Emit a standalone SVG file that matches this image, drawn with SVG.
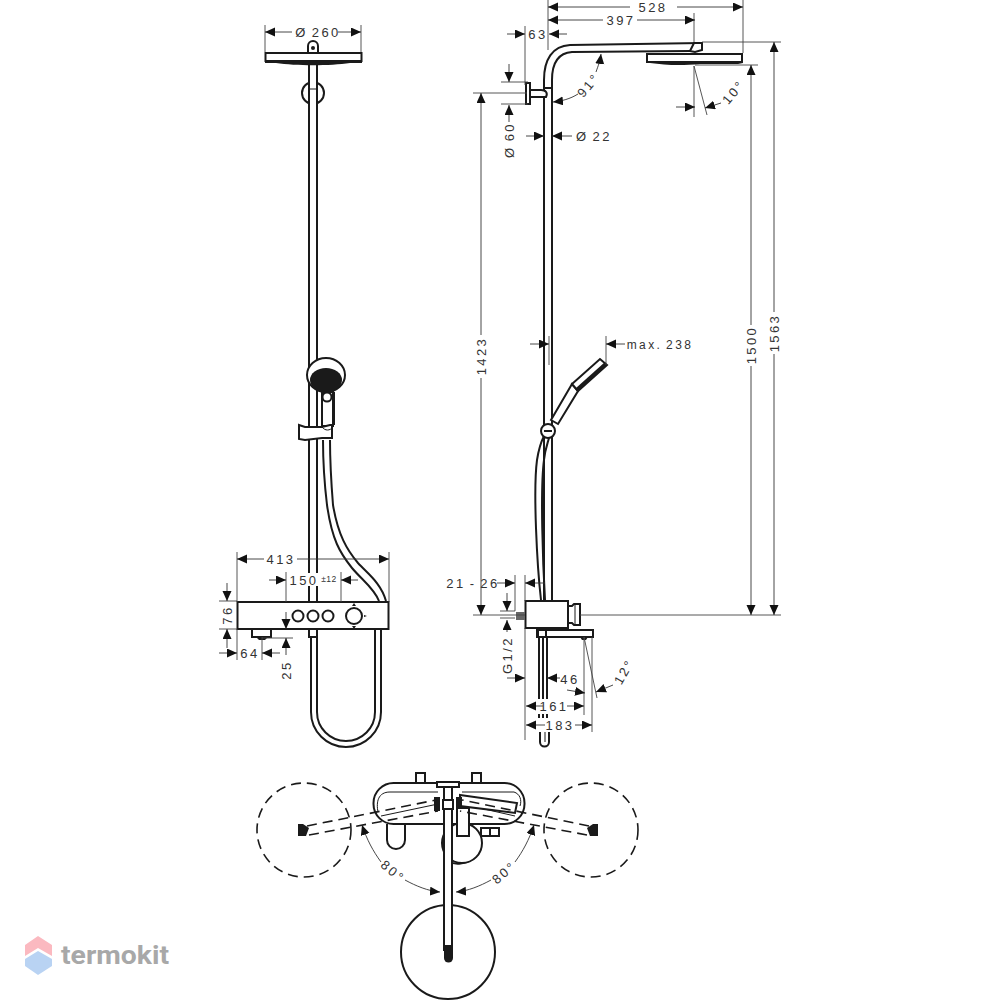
<svg xmlns="http://www.w3.org/2000/svg" width="1000" height="1000" viewBox="0 0 1000 1000">
<style>
.o{fill:none;stroke:#1a1a1a;stroke-width:2}
.w{fill:#fff;stroke:#1a1a1a;stroke-width:2}
.k{fill:#1a1a1a;stroke:none}
.t{fill:none;stroke:#1a1a1a;stroke-width:1}
.e{fill:none;stroke:#444;stroke-width:.9}
.a{fill:none;stroke:#333;stroke-width:.9;marker-end:url(#ar)}
.d{fill:none;stroke:#1a1a1a;stroke-width:1.6;stroke-dasharray:10 6}
.x{font-family:"Liberation Sans",Arial,sans-serif;font-size:13px;letter-spacing:2.4px;word-spacing:-2px;fill:#333;text-anchor:middle}
</style>
<defs>
<marker id="ar" markerUnits="userSpaceOnUse" markerWidth="12" markerHeight="10" refX="10" refY="4.500" orient="auto"><path d="M0 0L10 4.500L0 9Z" fill="#111"/></marker>
</defs>
<rect width="1000" height="1000" fill="#fff"/>

<g id="front-view">
<path class="o" d="M379 601C374 588 362 580 352 568C340 553 332 540 327 505C324 480 323 460 323 440"/>
<path class="o" d="M386 601C381 583 368 574 358 563C347 550 338 535 333 505C331 480 330 460 330 440"/>
<path class="o" d="M309 65V573M317 65V573M309 586V601M317 586V601"/>
<circle class="o" cx="313" cy="93" r="11"/>
<rect x="310" y="65" width="6" height="50" fill="#fff"/>
<path class="t" d="M309 89H317"/>
<path class="o" d="M308 52V46A5 5 0 0 1 318 46V52"/>
<circle class="k" cx="313" cy="48" r="2"/>
<rect class="w" x="265.500" y="53" width="96" height="8"/>
<path class="k" d="M265 60H362V63H350C330 66 296 66 276 63H265Z"/>
<path class="o" d="M323 425V392M334 425V392"/>
<ellipse class="w" cx="326" cy="375" rx="19" ry="17"/>
<ellipse class="k" cx="326" cy="380" rx="16" ry="12"/>
<rect class="w" x="322" y="392" width="11" height="34"/>
<circle class="w" cx="327" cy="397" r="4.500"/>
<path class="w" d="M299 425L305 427H322L330 425H332V438H322L305 440L299 439Z"/>
<path class="t" d="M322 427C325 431 330 431 333 427"/>
<rect class="w" x="237.500" y="602" width="151" height="27"/>
<circle class="o" cx="298" cy="616" r="5.500"/>
<circle class="o" cx="313" cy="616" r="5.500"/>
<circle class="o" cx="328" cy="616" r="5.500"/>
<circle class="o" cx="354" cy="616" r="8"/>
<path class="k" d="M352 606L354 603L356 606ZM352 626L354 629L356 626ZM364 615L367 616L364 617Z"/>
<path class="o" d="M252 629V637H271V629"/>
<path class="k" d="M256 637H268L265 640H259Z"/>
<rect class="o" x="309" y="629" width="8" height="8"/>
<path class="o" d="M311 637V712A35 35 0 0 0 381 712V629"/>
<path class="o" d="M317 637V712A29 29 0 0 0 375 712V629"/>
</g>

<g id="side-view">
<path class="o" d="M544 600V80C544 60 552 46 570 45L702 43M552 600V80C552 64 558 53 572 52L690 51"/>
<path class="w" d="M690 51L694 43H702V50L695 52Z"/>
<rect class="w" x="647" y="54" width="95" height="8"/>
<path class="k" d="M646 61H743V63L738 64H700C680 66 665 65 650 63H646Z"/>
<rect class="w" x="526" y="83" width="4" height="21"/>
<path class="w" d="M530 90H541C546 90 548 93 546 97H530Z"/>
<path class="o" d="M544 88H552"/>
<path class="o" d="M541 600C537 565 533 490 537 460C539 447 542 440 544 436M545 600C543 565 540 490 544 460C545 450 547 445 549 438"/>
<path class="w" d="M551 420L572 384L578 391L558 424Z"/>
<path class="w" d="M572 384L600 359L607 365L578 391Z"/>
<path class="k" d="M576 388L605 362L607 365L578 391Z"/>
<circle class="w" cx="548" cy="431" r="7"/>
<path class="k" d="M544 430H552V432H544Z"/>
<rect class="w" x="525.500" y="601" width="42.500" height="27"/>
<path class="o" d="M568 606H572L574 604H580V625H574L572 623H568"/>
<path class="t" d="M575 605V624"/>
<rect x="516" y="612" width="9" height="8" fill="#666"/>
<path class="o" d="M537 630H593V637H537Z"/>
<path class="o" d="M538 630V637H546V630"/>
<path class="k" d="M580 637H588L586 640H582Z"/>
<path class="o" d="M539 637V699M543 637V699M547 637V699"/>
<path class="o" d="M539 718V714M543 718V714M547 718V714" stroke-width="1.600"/>
<path class="o" d="M540 732V742A4.500 4.500 0 0 0 549 742V732"/>
<path class="t" d="M545 732V742"/>
</g>

<g id="top-view">
<circle class="d" cx="304" cy="830" r="47"/>
<circle class="d" cx="591" cy="830" r="47"/>
<circle class="o" cx="448" cy="952" r="47"/>
<path class="o" d="M416 783V773H425V783M472 783V773H481V783"/>
<path class="o" d="M387 824V840A9 9 0 0 0 405 840V824"/>
<path class="o" d="M444 852C444 870 476 866 481 848"/>
<circle class="w" cx="462" cy="843" r="20"/>
<rect class="o" x="481" y="828" width="9" height="8"/>
<rect class="o" x="490" y="828" width="9" height="8"/>
<rect class="w" x="373.500" y="783" width="151" height="41" rx="20"/>
<path class="t" d="M378 812C376 802 378 792 390 792H438M462 792H514C520 794 522 800 520 806"/>
<path class="t" d="M381 816L438 804M515 816L462 804"/>
<path class="w" d="M460 795L517 803L515 813L460 806Z"/>
<rect class="k" x="434" y="797" width="6" height="14"/>
<rect class="k" x="456" y="797" width="6" height="14"/>
<rect class="w" x="437" y="782" width="22" height="5"/>
<path class="w" d="M444 787V950H452V787Z"/>
<rect class="w" x="443" y="800" width="10" height="9"/>
<rect class="w" x="457" y="808" width="12" height="28"/>
<path class="k" d="M444 945H453V958A4.500 4.500 0 0 1 444 958Z"/>
<path class="k" d="M298 824L303 824L309 828L306 836L298 836Z"/>
<path class="k" d="M598 824L593 824L587 828L590 836L598 836Z"/>
<path class="d" d="M307 826L436 800M309 835L438 811M589 826L462 800M587 835L460 811"/>
<path class="a" d="M381 862C373 851 367 840 362 825"/>
<path class="a" d="M405 880C416 886 428 891 440 892"/>
<path class="a" d="M515 862C523 851 529 840 534 825"/>
<path class="a" d="M491 880C480 886 468 891 456 892"/>
<text class="x" transform="translate(390 875) rotate(40)">80°</text>
<text class="x" transform="translate(507 876) rotate(-40)">80°</text>
</g>

<g id="dimensions">
<path class="e" d="M265 25V52M361 25V52M548 0V50M743 0V53M694 13V42M525 26V85M702 42H781M695 65H758M694 66V117M694 66L707 115M501 82H528M501 104H528M473 93H527M473 615H525M580 615H781M606 336V365M549 336V365M515 575V611M525 575V601M500 611H515M500 618H515M525 628V740M584 637V715M592 637V732M584 637L597 698M237 552V602M389 552V602M286 572V602M341 572V602M219 601H237M219 629H237M237 629V660M262 637V660M262 638H293"/>
<path class="a" d="M292 32H265"/><path class="a" d="M338 32H361"/>
<text class="x" x="318" y="37">Ø 260</text>
<path class="a" d="M630 7H548"/><path class="a" d="M677 7H743"/>
<text class="x" x="653" y="12">528</text>
<path class="a" d="M603 20H548"/><path class="a" d="M637 20H695"/>
<text class="x" x="621" y="25">397</text>
<path class="a" d="M507 34H525"/><path class="a" d="M567 34H549"/>
<text class="x" x="538" y="39">63</text>
<path class="a" d="M596 72C598 66 600 62 601 54"/><path class="a" d="M578 94C570 99 562 101 553 102"/>
<text class="x" transform="translate(592 88) rotate(-50)">91°</text>
<path class="a" d="M676 107H695"/><path class="a" d="M721 103L705 108"/>
<text class="x" transform="translate(737 95) rotate(-50)">10°</text>
<path class="a" d="M509 64V82"/><path class="a" d="M509 122V105"/>
<text class="x" transform="translate(514 140) rotate(-90)">Ø 60</text>
<path class="a" d="M526 136H544"/><path class="a" d="M572 136H552"/>
<text class="x" x="594" y="141">Ø 22</text>
<path class="a" d="M481 335V93"/><path class="a" d="M481 378V615"/>
<text class="x" transform="translate(486 356) rotate(-90)">1423</text>
<path class="a" d="M751 325V65"/><path class="a" d="M751 366V615"/>
<text class="x" transform="translate(756 345) rotate(-90)">1500</text>
<path class="a" d="M774 312V42"/><path class="a" d="M774 354V615"/>
<text class="x" transform="translate(779 333) rotate(-90)">1563</text>
<path class="a" d="M530 344H549"/><path class="a" d="M625 344H606"/>
<text class="x" style="font-size:12px" x="660" y="349">max. 238</text>
<path class="a" d="M497 583H515"/><path class="a" d="M545 583H525"/>
<text class="x" x="473" y="588">21 - 26</text>
<path class="a" d="M507 593V611"/><path class="a" d="M507 632V620"/>
<text class="x" transform="translate(512 655) rotate(-90)">G1/2</text>
<path class="a" d="M507 678H525"/><path class="a" d="M560 678H547"/>
<text class="x" x="570" y="684">46</text>
<path class="a" d="M567 690L585 693"/><path class="a" d="M613 685L596 692"/>
<text class="x" transform="translate(628 674) rotate(-60)">12°</text>
<path class="a" d="M543 706H526"/><path class="a" d="M567 706H584"/>
<text class="x" x="554" y="711">161</text>
<path class="a" d="M545 725H526"/><path class="a" d="M575 725H592"/>
<text class="x" x="560" y="730">183</text>
<path class="a" d="M264 559H237"/><path class="a" d="M297 559H389"/>
<text class="x" x="281" y="564">413</text>
<path class="a" d="M269 580H286"/><path class="a" d="M358 580H341"/>
<text class="x" x="304" y="585">150</text>
<text x="329" y="582" style="font-family:'Liberation Sans',Arial,sans-serif;font-size:8.500px;letter-spacing:.5px;fill:#333;text-anchor:middle">±12</text>
<path class="a" d="M227 583V601"/><path class="a" d="M227 648V629"/>
<text class="x" transform="translate(232 615) rotate(-90)">76</text>
<path class="a" d="M219 653H237"/><path class="a" d="M280 653H262"/>
<text class="x" x="250" y="658">64</text>
<path class="a" d="M286 612V629"/><path class="a" d="M286 655V638"/>
<text class="x" transform="translate(291 670) rotate(-90)">25</text>
</g>

<g id="watermark">
<path d="M38 936L52 945V956L38 948L25 956V945Z" fill="#fbb9c0"/>
<path d="M38 951L52 959V966L38 975L25 966V959Z" fill="#b9d3f3"/>
<text x="61" y="964" textLength="108" lengthAdjust="spacingAndGlyphs" style="font-family:Roboto,'Liberation Sans',sans-serif;font-size:25px;font-weight:700;fill:#a8a8a8">termokit</text>
</g>
</svg>
